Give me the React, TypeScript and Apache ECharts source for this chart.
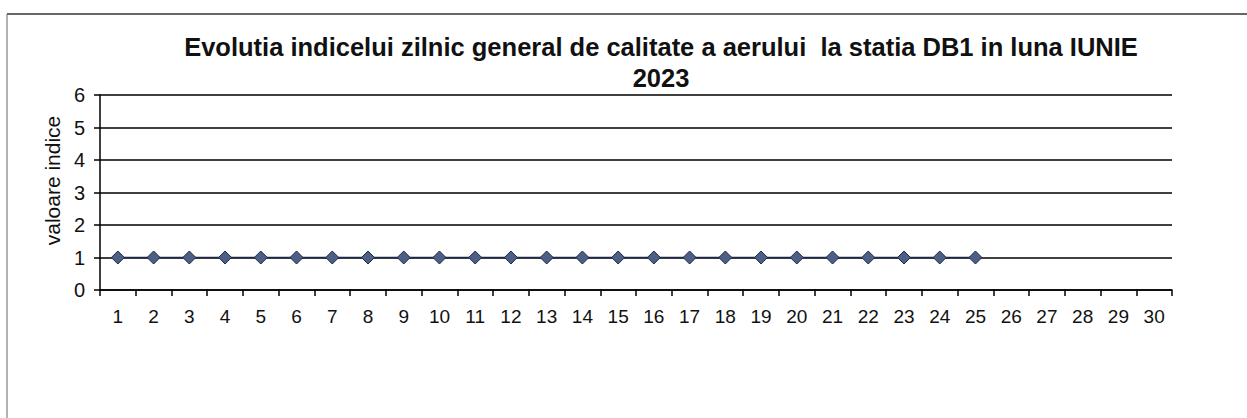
import React, { useEffect, useRef } from "react";
import * as echarts from "echarts";

const days: string[] = [
  "1", "2", "3", "4", "5", "6", "7", "8", "9", "10",
  "11", "12", "13", "14", "15", "16", "17", "18", "19", "20",
  "21", "22", "23", "24", "25", "26", "27", "28", "29", "30",
];
const indexValues: (number | null)[] = [
  1, 1, 1, 1, 1, 1, 1, 1, 1, 1,
  1, 1, 1, 1, 1, 1, 1, 1, 1, 1,
  1, 1, 1, 1, 1, null, null, null, null, null,
];
const titleText =
  "Evolutia indicelui zilnic general de calitate a aerului  la statia DB1 in luna IUNIE\n2023";
const yAxisName = "valoare indice";

export default function App() {
  const ref = useRef<HTMLDivElement>(null);
  useEffect(() => {
    if (!ref.current) return;
    const chart = echarts.init(ref.current, undefined, { renderer: "svg" });
    chart.setOption({
      animation: false,
      backgroundColor: "#ffffff",
      textStyle: { fontFamily: "Liberation Sans, Arial, sans-serif" },
      title: {
        text: titleText,
        left: 656,
        top: 26,
        textAlign: "center",
        textStyle: {
          fontFamily: "Liberation Sans, Arial, sans-serif",
          fontWeight: "bold",
          fontSize: 25.5,
          lineHeight: 31,
          color: "#111",
        },
      },
      graphic: [
        {
          type: "line",
          shape: { x1: 7, y1: 14, x2: 1247, y2: 14 },
          style: { stroke: "#333", lineWidth: 1.5 },
        },
        {
          type: "line",
          shape: { x1: 7, y1: 14, x2: 7, y2: 418 },
          style: { stroke: "#666", lineWidth: 1 },
        },
      ],
      grid: { left: 100, right: 75, top: 95, bottom: 128 },
      xAxis: {
        type: "category",
        data: days,
        boundaryGap: true,
        axisLine: { lineStyle: { color: "#000", width: 1.5 } },
        axisTick: { show: true, inside: false, length: 6, lineStyle: { color: "#000", width: 1.5 } },
        axisLabel: { color: "#111", fontSize: 19, margin: 17, interval: 0 },
        splitLine: { show: false },
      },
      yAxis: {
        type: "value",
        min: 0,
        max: 6,
        interval: 1,
        name: yAxisName,
        nameLocation: "middle",
        nameGap: 36,
        nameTextStyle: { fontSize: 21, color: "#111", padding: [0, 0, 0, 24] },
        axisLine: { show: true, lineStyle: { color: "#000", width: 1.5 } },
        axisTick: { show: true, length: 6, lineStyle: { color: "#000", width: 1.5 } },
        axisLabel: { color: "#111", fontSize: 20, margin: 15 },
        splitLine: { show: true, lineStyle: { color: "#000", width: 1.5 } },
      },
      series: [
        {
          type: "line",
          data: indexValues,
          symbol: "diamond",
          symbolSize: 13,
          lineStyle: { color: "#1c2a48", width: 1.5 },
          itemStyle: { color: "#4e5f85", borderColor: "#1c2a48", borderWidth: 1 },
        },
      ],
    });
    return () => chart.dispose();
  }, []);
  return (
    <div
      ref={ref}
      style={{ position: "fixed", left: 0, top: 0, width: 1247, height: 418 }}
    />
  );
}
